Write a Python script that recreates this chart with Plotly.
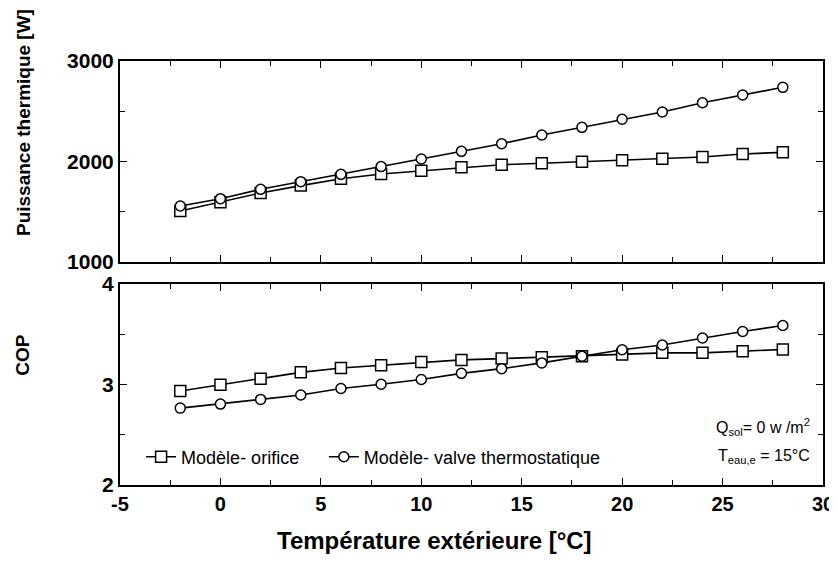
import plotly.graph_objects as go

temps = [-2, 0, 2, 4, 6, 8, 10, 12, 14, 16, 18, 20, 22, 24, 26, 28]
puissance_orifice = [1507, 1594, 1687, 1760, 1829, 1876, 1909, 1942, 1968, 1982, 1998, 2012, 2028, 2045, 2075, 2091]
puissance_valve = [1557, 1630, 1723, 1799, 1872, 1949, 2025, 2101, 2177, 2264, 2340, 2420, 2493, 2585, 2662, 2738]
cop_orifice = [2.936, 2.997, 3.057, 3.121, 3.164, 3.191, 3.225, 3.245, 3.258, 3.272, 3.282, 3.299, 3.315, 3.315, 3.332, 3.349]
cop_valve = [2.765, 2.805, 2.852, 2.896, 2.960, 3.003, 3.050, 3.111, 3.158, 3.215, 3.282, 3.346, 3.393, 3.463, 3.527, 3.587]

x_tickvals = [-5, 0, 5, 10, 15, 20, 25, 30]
x_ticktext = ["-5", "0", "5", "10", "15", "20", "25", "30"]

name_orifice = "Modèle- orifice"
name_valve = "Modèle- valve thermostatique"

FONT = "Liberation Sans, Arial, sans-serif"

line_style = dict(color="black", width=1.6)
sq = dict(symbol="square", size=11, color="white", line=dict(color="black", width=1.5))
ci = dict(symbol="circle", size=10, color="white", line=dict(color="black", width=1.5))

fig = go.Figure()
fig.add_trace(go.Scatter(x=temps, y=puissance_orifice, mode="lines+markers", line=line_style,
                         marker=sq, xaxis="x2", yaxis="y2", showlegend=False))
fig.add_trace(go.Scatter(x=temps, y=puissance_valve, mode="lines+markers", line=line_style,
                         marker=ci, xaxis="x2", yaxis="y2", showlegend=False))
fig.add_trace(go.Scatter(x=temps, y=cop_orifice, mode="lines+markers", line=line_style,
                         marker=sq, xaxis="x", yaxis="y", name=name_orifice, legend="legend"))
fig.add_trace(go.Scatter(x=temps, y=cop_valve, mode="lines+markers", line=line_style,
                         marker=ci, xaxis="x", yaxis="y", name=name_valve, legend="legend2"))

axis_common = dict(showline=True, linecolor="black", linewidth=2, mirror="ticks",
                   ticks="inside", tickcolor="black", tickwidth=1, ticklen=7,
                   showgrid=False, zeroline=False, automargin=False)
xfont = dict(family=FONT, size=20, color="black", weight="bold")
yfont = dict(family=FONT, size=21, color="black", weight="bold")
minor_x = dict(dtick=2.5, tick0=-5, ticks="inside", ticklen=5, tickcolor="black", showgrid=False)

legend_style = dict(orientation="h", yanchor="middle", xanchor="left",
                    bgcolor="rgba(0,0,0,0)", font=dict(family=FONT, size=18, color="black"),
                    itemwidth=30)

# page has an 8px body margin: figure is sized so that the plot lands where the reference has it
fig.update_layout(
    width=829, height=558,
    margin=dict(l=112, r=14, t=53, b=81),
    plot_bgcolor="white", paper_bgcolor="white",
    xaxis=dict(**axis_common, tickfont=xfont, range=[-5, 30], tickmode="array",
               tickvals=x_tickvals, ticktext=x_ticktext, anchor="y", minor=minor_x),
    xaxis2=dict(**axis_common, tickfont=xfont, range=[-5, 30], tickmode="array",
                tickvals=x_tickvals, ticktext=x_ticktext, anchor="y2",
                showticklabels=False, matches="x", minor=minor_x),
    yaxis=dict(**axis_common, tickfont=yfont, range=[2, 4], dtick=1, domain=[0, 0.474], anchor="x",
               minor=dict(dtick=0.5, ticks="inside", ticklen=5, tickcolor="black", showgrid=False)),
    yaxis2=dict(**axis_common, tickfont=yfont, range=[1000, 3000], dtick=1000,
                domain=[0.526, 1], anchor="x2",
                minor=dict(dtick=500, ticks="inside", ticklen=5, tickcolor="black", showgrid=False)),
    legend=dict(**legend_style, x=0.03, y=0.066),
    legend2=dict(**legend_style, x=0.29, y=0.066),
    showlegend=True,
)

fig.add_annotation(text="Puissance thermique [W]", xref="paper", yref="paper",
                   x=-0.138, y=0.856, xanchor="center", yanchor="middle",
                   textangle=-90, showarrow=False,
                   font=dict(family=FONT, size=19, color="black", weight="bold"))
fig.add_annotation(text="COP", xref="paper", yref="paper",
                   x=-0.138, y=0.307, xanchor="center", yanchor="middle",
                   textangle=-90, showarrow=False,
                   font=dict(family=FONT, size=19, color="black", weight="bold"))
fig.add_annotation(text="Température extérieure [°C]", xref="paper", yref="paper",
                   x=0.447, y=-0.130, xanchor="center", yanchor="middle", showarrow=False,
                   font=dict(family=FONT, size=24, color="black", weight="bold"))
fig.add_annotation(text="Q<sub>sol</sub>= 0 w /m<sup>2</sup>", xref="paper", yref="paper",
                   x=0.984, y=0.137, xanchor="right", yanchor="middle", showarrow=False,
                   font=dict(family=FONT, size=16, color="black"))
fig.add_annotation(text="T<sub>eau,e</sub> = 15°C", xref="paper", yref="paper",
                   x=0.984, y=0.068, xanchor="right", yanchor="middle", showarrow=False,
                   font=dict(family=FONT, size=16, color="black"))

fig.write_html("out.html")
